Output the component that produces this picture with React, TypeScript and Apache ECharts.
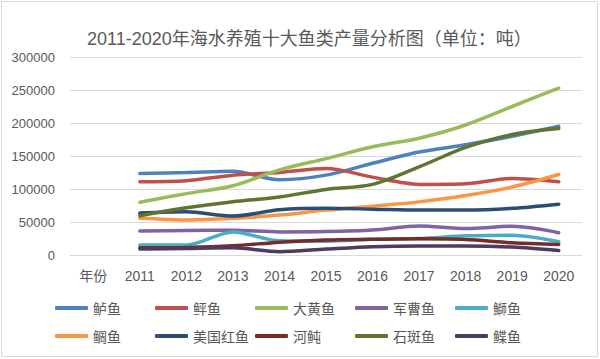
import React, { useEffect, useRef } from "react";
import * as echarts from "echarts";

const years = ["2011", "2012", "2013", "2014", "2015", "2016", "2017", "2018", "2019", "2020"];
const axisHead = "年份";
const title = "2011-2020年海水养殖十大鱼类产量分析图（单位：吨）";

const luyu = [123500, 125000, 127000, 114000, 121000, 139000, 156000, 167000, 180000, 195000];
const pingyu = [111000, 112500, 121000, 125000, 131000, 118000, 107000, 108000, 116000, 111000];
const dahuangyu = [80000, 93000, 105000, 129000, 146000, 164000, 177000, 197000, 225000, 253000];
const juncaoyu = [36300, 37000, 37500, 35000, 35500, 37800, 44000, 40000, 43500, 33800];
const shiyu = [15000, 15000, 35000, 21500, 21000, 24000, 25000, 29000, 30000, 20200];
const diaoyu = [56000, 53000, 55500, 60500, 68000, 74000, 80500, 90000, 103000, 122000];
const meiguohongyu = [63500, 65500, 59000, 68500, 70700, 69500, 68000, 68000, 70700, 77000];
const hetun = [11000, 11500, 14000, 19500, 22700, 23700, 24500, 23500, 18500, 16000];
const shibanyu = [59500, 71600, 80700, 88000, 99400, 107000, 133600, 163000, 182600, 191700];
const dieyu = [9000, 10000, 11000, 5000, 9000, 12600, 13800, 13800, 12000, 6800];

const seriesNames = ["鲈鱼", "鲆鱼", "大黄鱼", "军曹鱼", "鰤鱼", "鲷鱼", "美国红鱼", "河鲀", "石斑鱼", "鲽鱼"];
const seriesValues = [luyu, pingyu, dahuangyu, juncaoyu, shiyu, diaoyu, meiguohongyu, hetun, shibanyu, dieyu];
const seriesColors = ["#4F81BD", "#C0504D", "#9BBB59", "#8064A2", "#4BACC6", "#F79646", "#2C4D75", "#772C2A", "#5F7530", "#4D3B62"];

const FONT = "'Liberation Sans', 'Noto Sans CJK SC', sans-serif";
const TXT = "#595959";

export default function App() {
  const ref = useRef<HTMLDivElement>(null);
  useEffect(() => {
    document.body.style.margin = "0";
    const chart = echarts.init(ref.current!, null, { renderer: "svg" });
    const categories = [axisHead, ...years];
    const legends = seriesNames.map((name, i) => ({
      data: [name],
      left: 55 + (i % 5) * 100,
      top: i < 5 ? 301 : 329,
      padding: 0,
      icon: "roundRect",
      itemWidth: 33,
      itemHeight: 4,
      textStyle: { color: TXT, fontSize: 14, fontFamily: "'Noto Sans CJK SC', sans-serif" },
      selectedMode: false,
    }));
    chart.setOption({
      animation: false,
      backgroundColor: "#ffffff",
      title: {
        text: title,
        left: 82,
        top: 25,
        textStyle: { color: TXT, fontSize: 18, fontWeight: "normal", fontFamily: FONT },
      },
      legend: legends,
      grid: { left: 70, right: 18, top: 57, bottom: 104, containLabel: false },
      xAxis: {
        type: "category",
        data: categories,
        boundaryGap: true,
        axisLine: { show: true, lineStyle: { color: "#d9d9d9", width: 1 } },
        axisTick: { show: false },
        axisLabel: { color: TXT, fontSize: 14, fontFamily: FONT, margin: 14, interval: 0 },
      },
      yAxis: {
        type: "value",
        min: 0,
        max: 300000,
        interval: 50000,
        axisLine: { show: false },
        axisTick: { show: false },
        splitLine: { lineStyle: { color: "#d9d9d9", width: 1 } },
        axisLabel: { color: TXT, fontSize: 13, fontFamily: FONT, margin: 15, formatter: (v: number) => String(v) },
      },
      graphic: [
        {
          type: "rect",
          shape: { x: 1.5, y: 1.5, width: 596, height: 355 },
          style: { fill: "none", stroke: "#d9d9d9", lineWidth: 1 },
          silent: true,
        },
      ],
      series: seriesNames.map((name, i) => ({
        name,
        type: "line",
        data: [null, ...seriesValues[i]],
        smooth: 0.3,
        showSymbol: false,
        symbol: "none",
        lineStyle: { color: seriesColors[i], width: 3.5, cap: "round" },
        itemStyle: { color: seriesColors[i] },
      })),
    });
    return () => chart.dispose();
  }, []);
  return <div ref={ref} style={{ width: 600, height: 359 }} />;
}
